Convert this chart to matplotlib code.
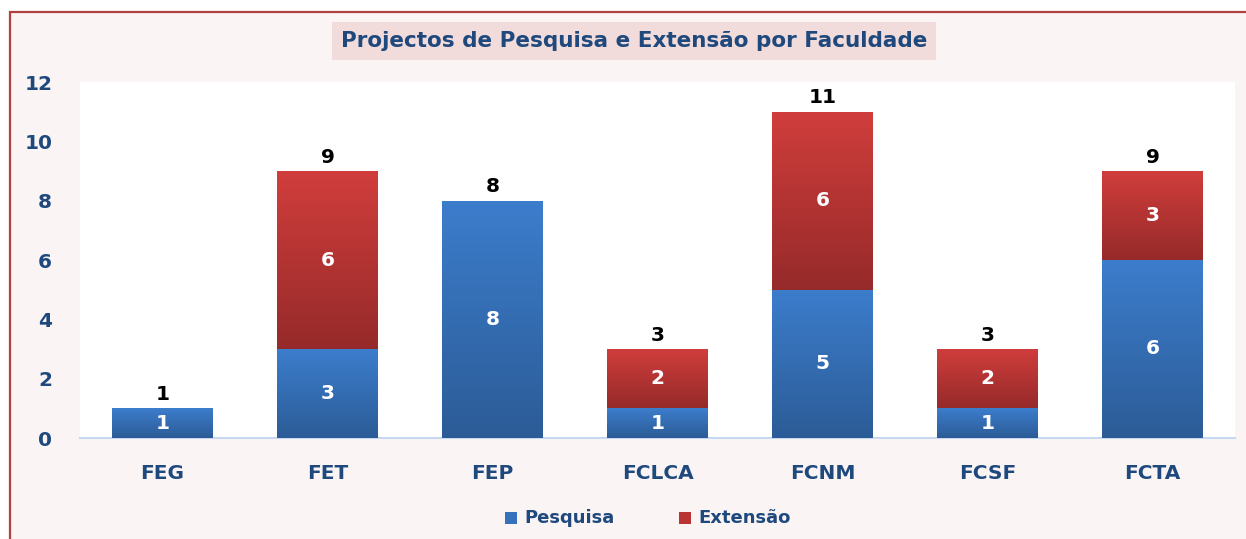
import matplotlib
matplotlib.use("Agg")
import matplotlib.pyplot as plt
import numpy as np
from matplotlib.patches import Rectangle
from matplotlib.colors import LinearSegmentedColormap

categories = ["FEG", "FET", "FEP", "FCLCA", "FCNM", "FCSF", "FCTA"]
pesquisa = [1, 3, 8, 1, 5, 1, 6]
extensao = [0, 6, 0, 2, 6, 2, 3]
series_names = ["Pesquisa", "Extensão"]
yticks = [0, 2, 4, 6, 8, 10, 12]
title = "Projectos de Pesquisa e Extensão por Faculdade"

W, H = 1246, 539
fig = plt.figure(figsize=(W / 100, H / 100), dpi=100)
fig.patch.set_facecolor("white")

# outer frame
frame = Rectangle((10 / W, -0.1), 1.2, 1 - 12 / H + 0.1, transform=fig.transFigure,
                  facecolor="#FAF4F4", edgecolor="#B0413E", linewidth=1.6, zorder=-10)
fig.patches.append(frame)

ax = fig.add_axes([80 / W, 1 - 438 / H, 1155 / W, (438 - 82) / H])
ax.set_zorder(1)
ax.set_facecolor("white")

x = np.arange(len(categories))
width = 0.61
blue_cmap = LinearSegmentedColormap.from_list("b", ["#2C5C97", "#3C7DCC"])
red_cmap = LinearSegmentedColormap.from_list("r", ["#962A2A", "#D03E3C"])

b1 = ax.bar(x, pesquisa, width, color="#3672BC", zorder=2, linewidth=0)
b2 = ax.bar(x, extensao, width, bottom=pesquisa, color="#B83533", zorder=2, linewidth=0)

grad = np.linspace(0, 1, 256).reshape(-1, 1)
for bars, cmap in ((b1, blue_cmap), (b2, red_cmap)):
    for p in bars:
        h = p.get_height()
        if h <= 0:
            continue
        x0, y0, w = p.get_x(), p.get_y(), p.get_width()
        im = ax.imshow(grad, cmap=cmap, aspect="auto", origin="lower",
                       extent=(x0, x0 + w, y0, y0 + h), zorder=3)
        im.set_clip_path(p)

# labels
for i in range(len(categories)):
    if pesquisa[i] > 0:
        ax.text(x[i], pesquisa[i] / 2, str(pesquisa[i]), ha="center", va="center",
                color="white", fontsize=14.5, fontweight="bold", zorder=5)
    if extensao[i] > 0:
        ax.text(x[i], pesquisa[i] + extensao[i] / 2, str(extensao[i]), ha="center", va="center",
                color="white", fontsize=14.5, fontweight="bold", zorder=5)
    tot = pesquisa[i] + extensao[i]
    ax.text(x[i], tot + 0.15, str(tot), ha="center", va="bottom",
            color="black", fontsize=14.5, fontweight="bold", zorder=5)

ax.set_xlim(-0.5, len(categories) - 0.5)
ax.set_ylim(0, 12)
ax.set_yticks(yticks)
ax.set_yticklabels([str(t) for t in yticks], fontsize=14.5, fontweight="bold", color="#1F497D")
ax.set_xticks(x)
ax.set_xticklabels(categories, fontsize=14.5, fontweight="bold", color="#1F497D")
ax.tick_params(axis="y", length=0, pad=20)
ax.tick_params(axis="x", length=0, pad=19)
for s in ("top", "right", "left"):
    ax.spines[s].set_visible(False)
ax.spines["bottom"].set_color("#C6D9F1")
ax.spines["bottom"].set_linewidth(1.5)

fig.text(634 / W, 1 - 41 / H, title, ha="center", va="center", fontsize=15.5,
         fontweight="bold", color="#1F497D", family="DejaVu Sans",
         bbox=dict(boxstyle="square,pad=0.4", facecolor="#F2DCDB", edgecolor="none"))

# legend
fig.patches.append(Rectangle((505 / W, 1 - 524 / H), 12 / W, 12 / H, transform=fig.transFigure,
                             facecolor="#3672BC", edgecolor="none"))
fig.text(524 / W, 1 - 518 / H, series_names[0], ha="left", va="center", fontsize=13,
         fontweight="bold", color="#1F497D")
fig.patches.append(Rectangle((679 / W, 1 - 524 / H), 12 / W, 12 / H, transform=fig.transFigure,
                             facecolor="#B83533", edgecolor="none"))
fig.text(698 / W, 1 - 518 / H, series_names[1], ha="left", va="center", fontsize=13,
         fontweight="bold", color="#1F497D")

fig.savefig("out.png", dpi=100, facecolor=fig.get_facecolor())
